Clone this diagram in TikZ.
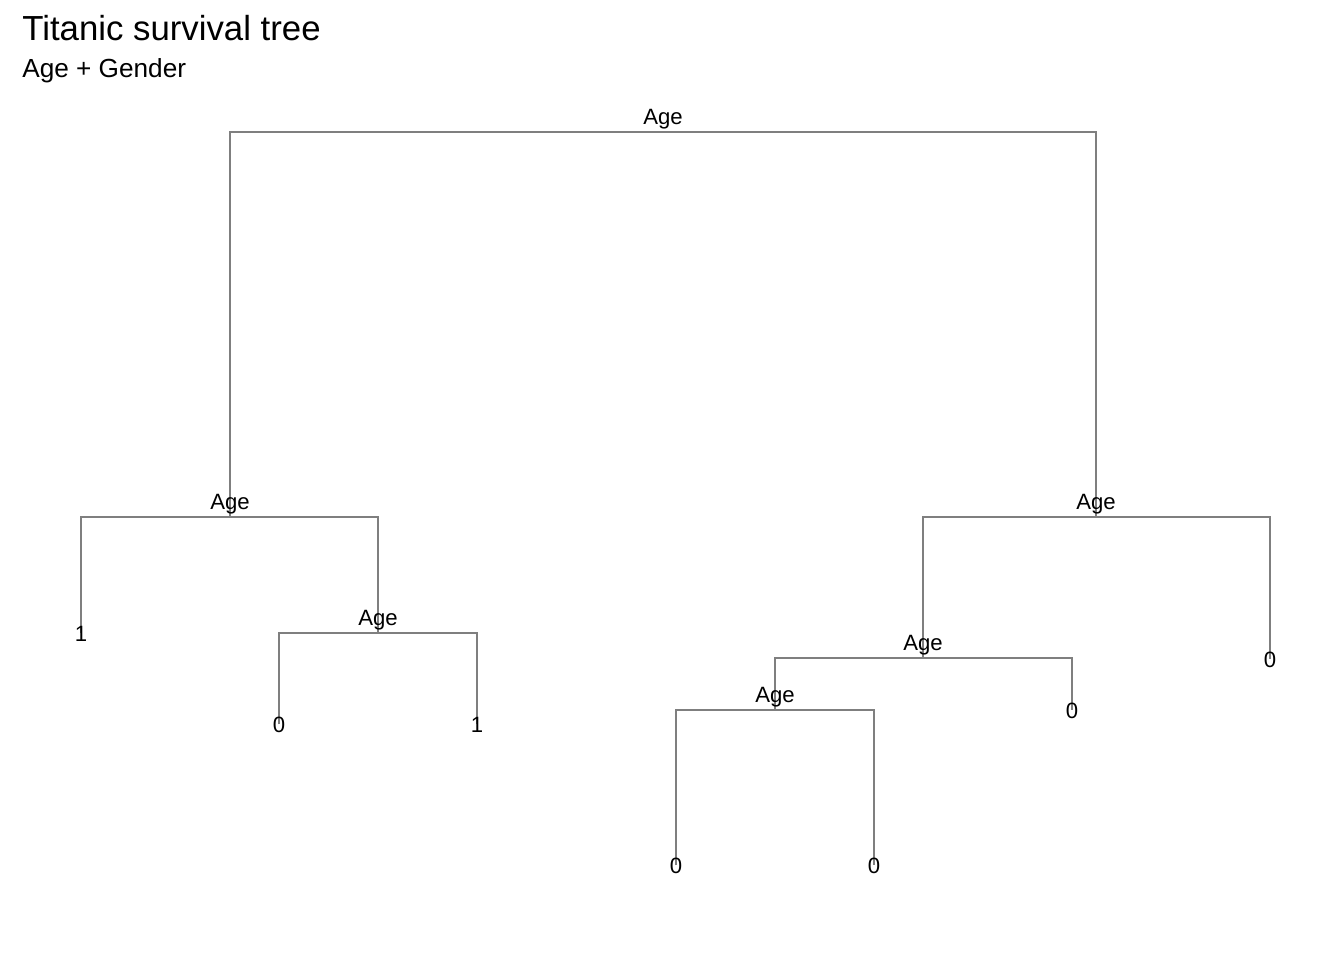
\documentclass[tikz,border=0pt]{standalone}
\usepackage{fontspec}
\setmainfont{Liberation Sans}
\usetikzlibrary{backgrounds}

\definecolor{segcol}{HTML}{7F7F7F}
\tikzset{
  seg/.style={draw=segcol, line width=1.4pt},
  split/.style={font=\fontsize{12.6}{15}\selectfont, anchor=base, yshift=4pt, inner sep=0pt},
  leaf/.style={font=\fontsize{12.6}{15}\selectfont, anchor=base, inner sep=0pt},
}

\begin{document}
\begin{tikzpicture}[x=0.02cm, y=-0.02cm]
    \useasboundingbox (0,0) rectangle (1344,960);
    % title
    \node[anchor=base west, inner sep=0pt, font=\fontsize{19.8}{23}\selectfont] (title) at (22,40) {Titanic survival tree};
    \node[anchor=base west, inner sep=0pt, font=\fontsize{14.9}{17}\selectfont] (subtitle) at (22,77) {Age + Gender};
    % split points
    \coordinate (n0) at (663,132);
    \coordinate (n1) at (230,517);
    \coordinate (n2) at (378,633);
    \coordinate (n3) at (1096,517);
    \coordinate (n4) at (923,658);
    \coordinate (n5) at (775,710);
    % leaves
    \node[leaf] (l1) at (81,641) {1};
    \node[leaf] (l2) at (279,732) {0};
    \node[leaf] (l3) at (477,732) {1};
    \node[leaf] (l4) at (676,873) {0};
    \node[leaf] (l5) at (874,873) {0};
    \node[leaf] (l6) at (1072,718) {0};
    \node[leaf] (l7) at (1270,667) {0};
    % split labels
    \node[split] (a0) at (n0) {Age};
    \node[split] (a1) at (n1) {Age};
    \node[split] (a2) at (n2) {Age};
    \node[split] (a3) at (n3) {Age};
    \node[split] (a4) at (n4) {Age};
    \node[split] (a5) at (n5) {Age};
    % branches, behind the text
    \begin{pgfonlayer}{background}
    \draw[seg] (n1) |- (n0) -| (n3);
    \draw[seg] (l1.center) |- (n1) -| (n2);
    \draw[seg] (l2.center) |- (n2) -| (l3.center);
    \draw[seg] (n4) |- (n3) -| (l7.center);
    \draw[seg] (n5) |- (n4) -| (l6.center);
    \draw[seg] (l4.center) |- (n5) -| (l5.center);
    \end{pgfonlayer}
\end{tikzpicture}
\end{document}
